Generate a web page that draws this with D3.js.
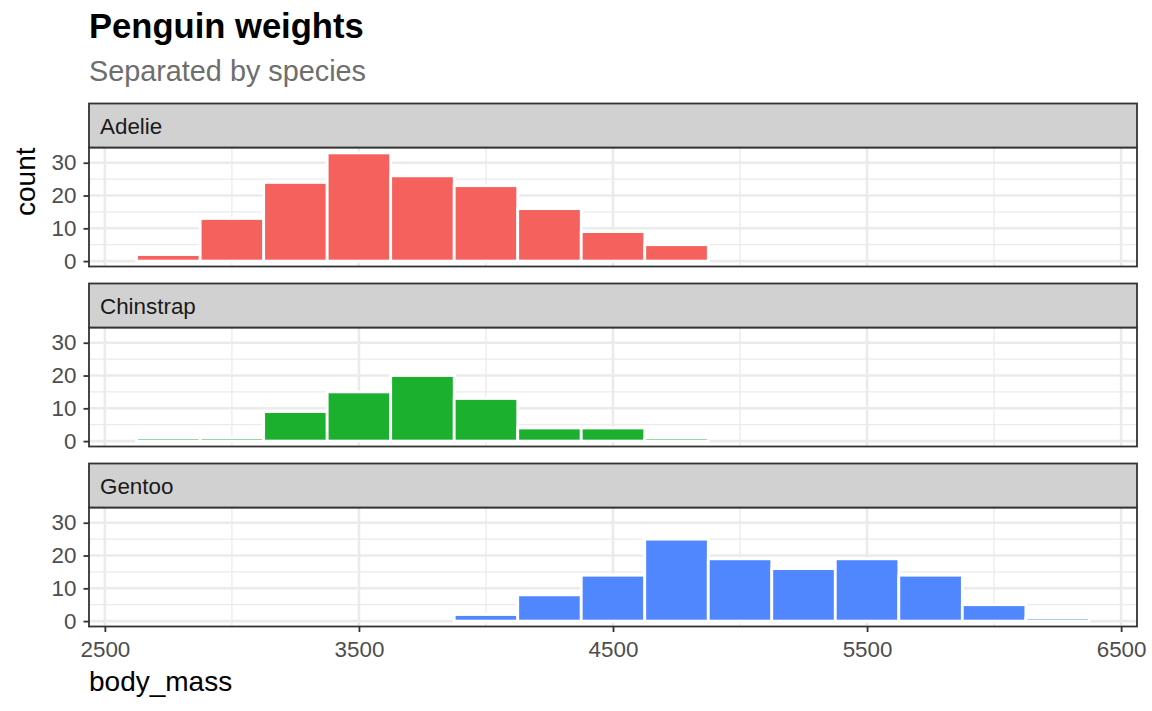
<!DOCTYPE html>
<html>
<head>
<meta charset="utf-8">
<script src="https://cdn.jsdelivr.net/npm/d3@7"></script>
<style>
  html, body { margin: 0; padding: 0; background: #ffffff; }
  svg { display: block; font-family: "Liberation Sans", Arial, Helvetica, sans-serif; }
</style>
</head>
<body>
<svg id="chart" width="1152" height="711"></svg>
<script>
// ---------------- data ----------------
const species = ["Adelie", "Chinstrap", "Gentoo"];
const binStarts = [2625, 2875, 3125, 3375, 3625, 3875, 4125, 4375, 4625, 4875, 5125, 5375, 5625, 5875, 6125];
const binWidth = 250;
const adelieCounts    = [2, 13, 24, 33, 26, 23, 16, 9, 5, 0, 0, 0, 0, 0, 0];
const chinstrapCounts = [1, 1, 9, 15, 20, 13, 4, 4, 1, 0, 0, 0, 0, 0, 0];
const gentooCounts    = [0, 0, 0, 0, 0, 2, 8, 14, 25, 19, 16, 19, 14, 5, 1];
const speciesColors = ["#F5615C", "#1BB12F", "#5087FF"];
const xTicks = [2500, 3500, 4500, 5500, 6500];
const xMinorTicks = [3000, 4000, 5000, 6000];
const yTicks = [0, 10, 20, 30];
const yMinorTicks = [5, 15, 25];
const titleText = "Penguin weights";
const subtitleText = "Separated by species";
const xTitle = "body_mass";
const yTitle = "count";

const countsBySpecies = [adelieCounts, chinstrapCounts, gentooCounts];

// ---------------- layout ----------------
const svg = d3.select("#chart");
const panelLeft = 89, panelRight = 1137;
const stripTops = [103.5, 283.5, 463.5];
const stripH = 44;
const panelH = 119;
const gridCol = "#EBEBEB";
const darkCol = "#333333";

// x domain: bins range with 5% expansion
const binMin = d3.min(binStarts), binMax = d3.max(binStarts) + binWidth;
const xpad = (binMax - binMin) * 0.05;
const x = d3.scaleLinear().domain([binMin - xpad, binMax + xpad]).range([panelLeft, panelRight]);

const yMaxData = d3.max(countsBySpecies.flat());
const ypad = yMaxData * 0.05;

// title
svg.append("text").attr("x", 89).attr("y", 38)
  .attr("font-size", 34.6).attr("font-weight", "bold").attr("fill", "#000")
  .text(titleText);
svg.append("text").attr("x", 89).attr("y", 81)
  .attr("font-size", 28.8).attr("fill", "#6E6E6E")
  .text(subtitleText);

species.forEach((sp, i) => {
  const sTop = stripTops[i];
  const pTop = sTop + stripH;
  const pBot = pTop + panelH;
  const y = d3.scaleLinear().domain([-ypad, yMaxData + ypad]).range([pBot, pTop]);
  const g = svg.append("g");

  // panel background
  g.append("rect").attr("x", panelLeft).attr("y", pTop)
    .attr("width", panelRight - panelLeft).attr("height", panelH).attr("fill", "#fff");

  // minor grid
  g.selectAll(".ymin").data(yMinorTicks).enter().append("line")
    .attr("x1", panelLeft).attr("x2", panelRight)
    .attr("y1", d => y(d)).attr("y2", d => y(d))
    .attr("stroke", gridCol).attr("stroke-width", 1.3);
  g.selectAll(".xmin").data(xMinorTicks).enter().append("line")
    .attr("y1", pTop).attr("y2", pBot)
    .attr("x1", d => x(d)).attr("x2", d => x(d))
    .attr("stroke", gridCol).attr("stroke-width", 1.3);
  // major grid
  g.selectAll(".ymaj").data(yTicks).enter().append("line")
    .attr("x1", panelLeft).attr("x2", panelRight)
    .attr("y1", d => y(d)).attr("y2", d => y(d))
    .attr("stroke", gridCol).attr("stroke-width", 2.6);
  g.selectAll(".xmaj").data(xTicks).enter().append("line")
    .attr("y1", pTop).attr("y2", pBot)
    .attr("x1", d => x(d)).attr("x2", d => x(d))
    .attr("stroke", gridCol).attr("stroke-width", 2.6);

  // bars
  const counts = countsBySpecies[i];
  g.selectAll(".bar").data(binStarts.map((b, k) => ({ b, c: counts[k] }))).enter().append("rect")
    .attr("x", d => x(d.b))
    .attr("width", d => x(d.b + binWidth) - x(d.b))
    .attr("y", d => y(d.c))
    .attr("height", d => y(0) - y(d.c))
    .attr("fill", speciesColors[i])
    .attr("stroke", "#fff").attr("stroke-width", 2.8);

  // panel border
  g.append("rect").attr("x", panelLeft).attr("y", pTop)
    .attr("width", panelRight - panelLeft).attr("height", panelH)
    .attr("fill", "none").attr("stroke", darkCol).attr("stroke-width", 1.8);

  // strip
  g.append("rect").attr("x", panelLeft).attr("y", sTop)
    .attr("width", panelRight - panelLeft).attr("height", stripH)
    .attr("fill", "#D1D1D1").attr("stroke", darkCol).attr("stroke-width", 1.8);
  g.append("text").attr("x", panelLeft + 11).attr("y", sTop + stripH / 2 + 8)
    .attr("font-size", 22.4).attr("fill", "#1A1A1A").text(sp);

  // y axis
  const yAxis = d3.axisLeft(y).tickValues(yTicks).tickSize(5.5).tickPadding(7).tickFormat(d3.format("d"));
  const ya = g.append("g").attr("transform", `translate(${panelLeft},0)`).call(yAxis);
  ya.select(".domain").remove();
  ya.selectAll("line").attr("stroke", darkCol).attr("stroke-width", 1.8);
  ya.selectAll("text").attr("font-size", 22.4).attr("fill", "#4D4D4D")
    .attr("font-family", "Liberation Sans, Arial, sans-serif");

  if (i === species.length - 1) {
    const xAxis = d3.axisBottom(x).tickValues(xTicks).tickSize(5.5).tickPadding(9).tickFormat(d3.format("d"));
    const xa = g.append("g").attr("transform", `translate(0,${pBot})`).call(xAxis);
    xa.select(".domain").remove();
    xa.selectAll("line").attr("stroke", darkCol).attr("stroke-width", 1.8);
    xa.selectAll("text").attr("font-size", 22.4).attr("fill", "#4D4D4D")
      .attr("font-family", "Liberation Sans, Arial, sans-serif");
  }
});

// axis titles
svg.append("text").attr("x", 89).attr("y", 691)
  .attr("font-size", 28).attr("fill", "#000").text(xTitle);
svg.append("text")
  .attr("transform", `translate(35, ${stripTops[0] + stripH}) rotate(-90)`)
  .attr("text-anchor", "end")
  .attr("font-size", 28).attr("fill", "#000").text(yTitle);
</script>
</body>
</html>
